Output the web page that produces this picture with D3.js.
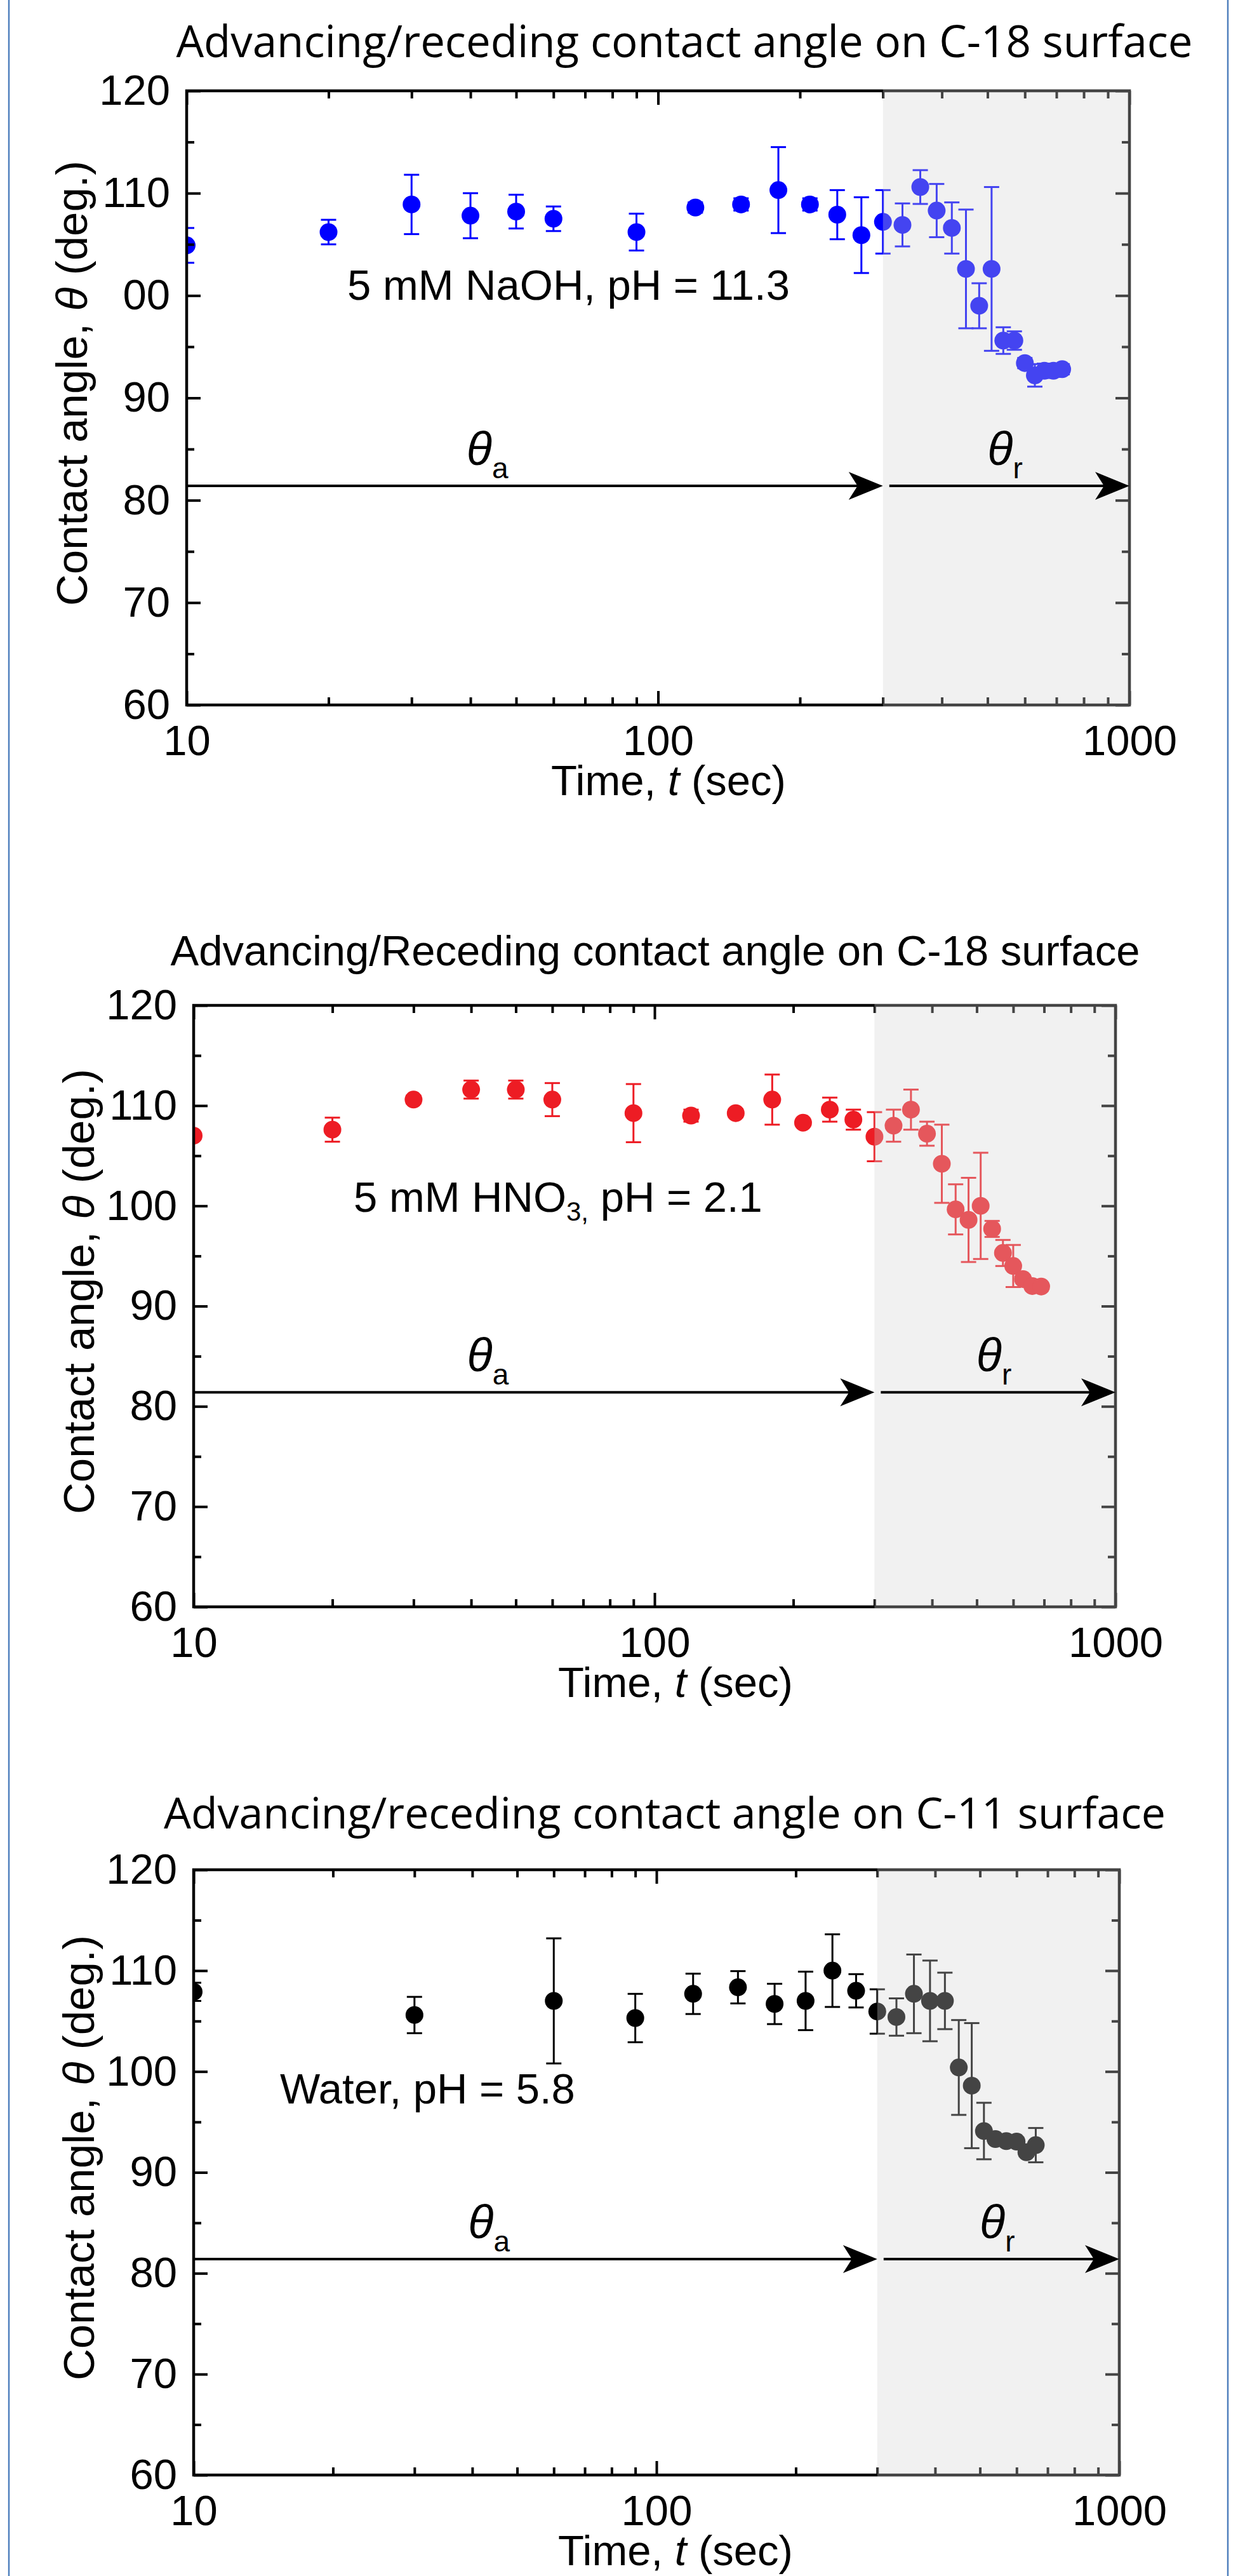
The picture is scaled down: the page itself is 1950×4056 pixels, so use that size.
<!DOCTYPE html>
<html><head><meta charset="utf-8">
<script src="https://cdn.jsdelivr.net/npm/d3@7"></script>
<style>body{margin:0;background:#fff}svg{display:block}</style>
</head><body>
<svg id="chart" width="1950" height="4056"></svg>
<script>
// ---------- data ----------
const naohTime  = [10,20,30,40,50,60,90,120,150,180,210,240,270,300,330,360,390,420,450,480,510,540,570,600,630,660,690,720];
const naohAngle = [104.9,106.2,108.9,107.8,108.2,107.5,106.2,108.6,108.9,110.3,108.9,107.9,105.9,107.2,106.9,110.6,108.3,106.6,102.6,99.0,102.6,95.6,95.6,93.4,92.2,92.65,92.65,92.8];
const naohErr   = [1.7,1.2,2.9,2.2,1.65,1.2,1.8,0.5,0.6,4.2,0.6,2.4,3.7,3.1,2.1,1.65,2.6,2.5,5.8,2.2,8.0,1.3,0.9,0.5,1.1,0.7,0.6,0.5];

const hno3Time  = [10,20,30,40,50,60,90,120,150,180,210,240,270,300,330,360,390,420,450,480,510,540,570,600,630,660,690];
const hno3Angle = [107.0,107.6,110.6,111.6,111.6,110.6,109.25,109.0,109.25,110.6,108.3,109.6,108.6,106.9,108.0,109.6,107.2,104.2,99.65,98.6,100.0,97.7,95.3,94.0,92.7,92.0,91.95];
const hno3Err   = [0.3,1.2,0.4,0.9,0.9,1.65,2.9,0.6,0.4,2.5,0.3,1.2,1.0,2.45,1.6,2.0,1.2,3.9,2.5,4.2,5.3,0.8,1.3,2.1,0.4,0.3,0.3];

const waterTime  = [10,30,60,90,120,150,180,210,240,270,300,330,360,390,420,450,480,510,540,570,600,630,660];
const waterAngle = [107.9,105.6,107.0,105.3,107.7,108.35,106.7,107.0,110.0,108.0,105.95,105.4,107.7,107.0,107.0,100.4,98.6,94.1,93.3,93.1,93.05,92.0,92.7];
const waterErr   = [0.9,1.8,6.2,2.4,2.0,1.6,2.0,2.9,3.6,1.65,2.2,1.85,3.9,4.0,2.8,4.7,6.2,2.8,0.4,0.4,0.4,0.4,1.7];

const xMajorTicks = [10,100,1000];
const xTickLabels = ["10","100","1000"];
const xMinorTicks = [20,30,40,50,60,70,80,90,200,300,400,500,600,700,800,900];
const yMajorTicks = [60,70,80,90,100,110,120];
const yTickLabelsA = ["60","70","80","90","00","110","120"];
const yTickLabelsB = ["60","70","80","90","100","110","120"];
const yMinorTicks = [65,75,85,95,105,115];

const titles = [
  "Advancing/receding contact angle on C-18 surface",
  "Advancing/Receding contact angle on C-18 surface",
  "Advancing/receding contact angle on C-11 surface"
];
const recedeStart = 300;   // start of receding region (s)
const arrowLevel = 81.4;   // arrow height (deg.)
const thetaAPos = 42, thetaRPos = 535;

// ---------- layout ----------
const panels = [
  {id:1, L:294, R:1779, T:143, B:1110, time:naohTime, angle:naohAngle, err:naohErr, color:"#0000ff",
   yLabels:yTickLabelsA, title:titles[0], tFont:"Open Sans", tSize:69, tX:1078, tY:90,
   note:[{t:"5 mM NaOH, pH = 11.3"}], noteX:253, noteY:329},
  {id:2, L:305, R:1757, T:1583, B:2530, time:hno3Time, angle:hno3Angle, err:hno3Err, color:"#ed1c24",
   yLabels:yTickLabelsB, title:titles[1], tFont:"Liberation Sans", tSize:67, tX:1032, tY:1520,
   note:[{t:"5 mM HNO"},{t:"3,",sub:true},{t:" pH = 2.1"}], noteX:252, noteY:325},
  {id:3, L:305, R:1763, T:2944, B:3897, time:waterTime, angle:waterAngle, err:waterErr, color:"#000000",
   yLabels:yTickLabelsB, title:titles[2], tFont:"Open Sans", tSize:68, tX:1047, tY:2879,
   note:[{t:"Water, pH = 5.8"}], noteX:136, noteY:368}
];

const svg = d3.select("#chart");
const FONT = "'Liberation Sans', Arial, sans-serif";
const FS = 67;

// page borders
svg.append("line").attr("x1",14).attr("x2",14).attr("y1",0).attr("y2",4056).attr("stroke","#4f7fbd").attr("stroke-width",2.5);
svg.append("line").attr("x1",1934).attr("x2",1934).attr("y1",0).attr("y2",4056).attr("stroke","#4f7fbd").attr("stroke-width",2.5);

function styleAxis(sel){
  sel.attr("font-family",FONT).attr("font-size",FS);
  sel.select(".domain").remove();
  sel.selectAll(".tick line").attr("stroke","#000").attr("stroke-width",4);
  sel.selectAll(".tick text").attr("fill","#000");
}

panels.forEach(p=>{
  const g = svg.append("g");
  const x = d3.scaleLog().domain([10,1000]).range([p.L,p.R]);
  const y = d3.scaleLinear().domain([60,120]).range([p.B,p.T]);
  const clipId = "clip"+p.id;
  svg.append("clipPath").attr("id",clipId).append("rect")
    .attr("x",p.L).attr("y",p.T).attr("width",p.R-p.L).attr("height",p.B-p.T);

  const data = p.time.map((t,i)=>({t:t, v:p.angle[i], e:p.err[i]}));
  const dg = g.append("g").attr("clip-path",`url(#${clipId})`);
  const eb = dg.selectAll("g.eb").data(data).join("g").attr("class","eb")
    .attr("stroke",p.color).attr("stroke-width",3);
  eb.append("line").attr("x1",d=>x(d.t)).attr("x2",d=>x(d.t)).attr("y1",d=>y(d.v-d.e)).attr("y2",d=>y(d.v+d.e));
  eb.append("line").attr("x1",d=>x(d.t)-12).attr("x2",d=>x(d.t)+12).attr("y1",d=>y(d.v-d.e)).attr("y2",d=>y(d.v-d.e));
  eb.append("line").attr("x1",d=>x(d.t)-12).attr("x2",d=>x(d.t)+12).attr("y1",d=>y(d.v+d.e)).attr("y2",d=>y(d.v+d.e));
  dg.selectAll("circle").data(data).join("circle")
    .attr("cx",d=>x(d.t)).attr("cy",d=>y(d.v)).attr("r",14).attr("fill",p.color);

  // axes (inward ticks on all sides)
  g.append("g").attr("transform",`translate(0,${p.B})`)
    .call(d3.axisBottom(x).tickValues(xMajorTicks).tickFormat((d,i)=>xTickLabels[i]).tickSizeInner(-22).tickSizeOuter(0).tickPadding(31)).call(styleAxis);
  g.append("g").attr("transform",`translate(0,${p.B})`)
    .call(d3.axisBottom(x).tickValues(xMinorTicks).tickFormat("").tickSizeInner(-12).tickSizeOuter(0)).call(styleAxis);
  g.append("g").attr("transform",`translate(0,${p.T})`)
    .call(d3.axisTop(x).tickValues(xMajorTicks).tickFormat("").tickSizeInner(-22).tickSizeOuter(0)).call(styleAxis);
  g.append("g").attr("transform",`translate(0,${p.T})`)
    .call(d3.axisTop(x).tickValues(xMinorTicks).tickFormat("").tickSizeInner(-12).tickSizeOuter(0)).call(styleAxis);
  g.append("g").attr("transform",`translate(${p.L},0)`)
    .call(d3.axisLeft(y).tickValues(yMajorTicks).tickFormat((d,i)=>p.yLabels[i]).tickSizeInner(-22).tickSizeOuter(0).tickPadding(26)).call(styleAxis);
  g.append("g").attr("transform",`translate(${p.L},0)`)
    .call(d3.axisLeft(y).tickValues(yMinorTicks).tickFormat("").tickSizeInner(-12).tickSizeOuter(0)).call(styleAxis);
  g.append("g").attr("transform",`translate(${p.R},0)`)
    .call(d3.axisRight(y).tickValues(yMajorTicks).tickFormat("").tickSizeInner(-22).tickSizeOuter(0)).call(styleAxis);
  g.append("g").attr("transform",`translate(${p.R},0)`)
    .call(d3.axisRight(y).tickValues(yMinorTicks).tickFormat("").tickSizeInner(-12).tickSizeOuter(0)).call(styleAxis);

  // frame
  g.append("rect").attr("x",p.L).attr("y",p.T).attr("width",p.R-p.L).attr("height",p.B-p.T)
    .attr("fill","none").attr("stroke","#000").attr("stroke-width",4.5);

  // receding shade overlay
  g.append("rect").attr("x",x(recedeStart)).attr("y",p.T-3)
    .attr("width",p.R-x(recedeStart)+3).attr("height",p.B-p.T+6)
    .attr("fill","#d5d5d5").attr("fill-opacity",0.32);

  // arrows
  const ay = y(arrowLevel);
  function arrow(x0,x1){
    g.append("line").attr("x1",x0).attr("x2",x1-30).attr("y1",ay).attr("y2",ay).attr("stroke","#000").attr("stroke-width",4);
    g.append("path").attr("d",`M${x1},${ay} L${x1-54},${ay-22} L${x1-40},${ay} L${x1-54},${ay+22} Z`).attr("fill","#000");
  }
  arrow(x(10), x(recedeStart));
  arrow(x(recedeStart)+10, x(1000));

  // theta labels
  [[thetaAPos,"a"],[thetaRPos,"r"]].forEach(([t,s])=>{
    const tx = g.append("text").attr("x",x(t)-22).attr("y",ay-33).attr("font-family",FONT).attr("fill","#000");
    tx.append("tspan").attr("font-style","italic").attr("font-size",74).text("θ");
    tx.append("tspan").attr("font-size",46).attr("dy",21).text(s);
  });

  // annotation
  const nt = g.append("text").attr("x",p.L+p.noteX).attr("y",p.T+p.noteY)
    .attr("font-family",FONT).attr("font-size",FS).attr("fill","#000");
  p.note.forEach(n=>{
    const ts = nt.append("tspan").text(n.t);
    if(n.sub) ts.attr("font-size",42).attr("dy",14);
    else if(nt.selectAll("tspan").size()>1) ts.attr("dy",-14);
  });

  // title
  g.append("text").attr("x",p.tX).attr("y",p.tY).attr("text-anchor","middle")
    .attr("font-family",`'${p.tFont}', sans-serif`).attr("font-size",p.tSize).attr("fill","#000").text(p.title);

  // x axis title
  const xt = g.append("text").attr("x",p.L+759).attr("y",p.B+142).attr("text-anchor","middle")
    .attr("font-family",FONT).attr("font-size",FS).attr("fill","#000");
  xt.append("tspan").text("Time, ");
  xt.append("tspan").attr("font-style","italic").text("t");
  xt.append("tspan").text(" (sec)");

  // y axis title
  const yc = (p.T+p.B)/2 - 23;
  const yt = g.append("text").attr("transform",`translate(${p.L-157},${yc}) rotate(-90)`).attr("text-anchor","middle")
    .attr("font-family",FONT).attr("font-size",69).attr("fill","#000");
  yt.append("tspan").text("Contact angle, ");
  yt.append("tspan").attr("font-style","italic").text("θ");
  yt.append("tspan").text(" (deg.)");
});
</script>
</body></html>
